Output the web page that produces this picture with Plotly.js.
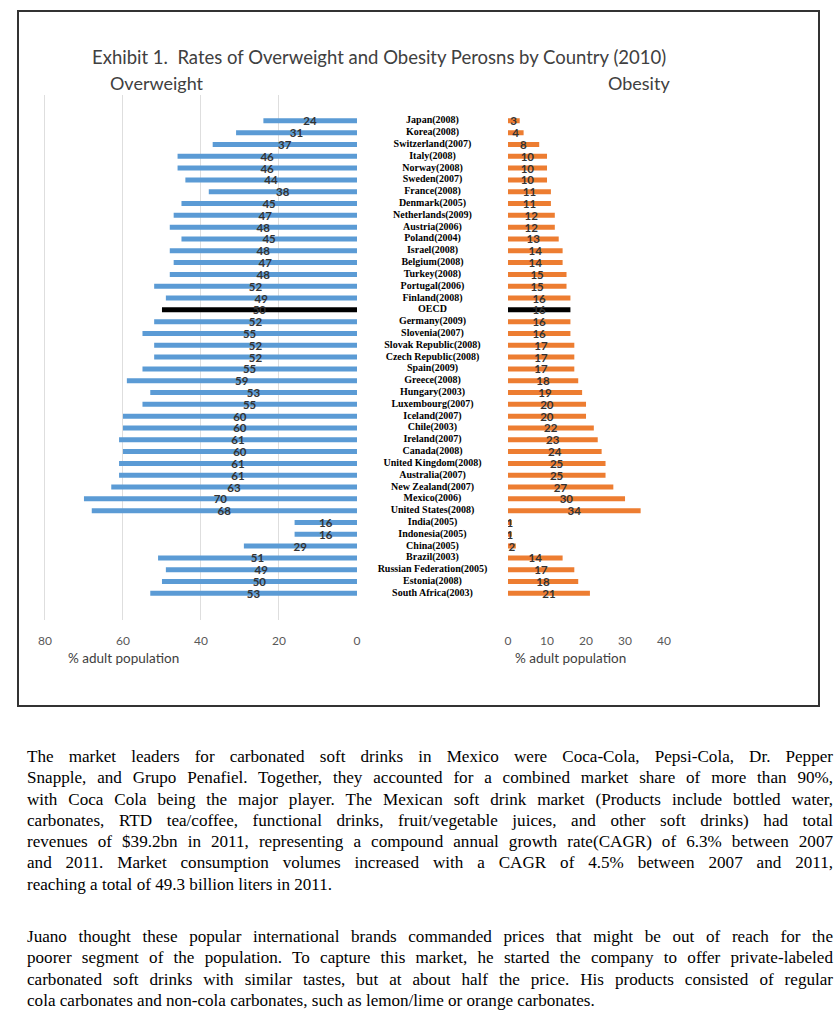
<!DOCTYPE html>
<html>
<head>
<meta charset="utf-8">
<script src="https://cdn.plot.ly/plotly-3.0.1.min.js"></script>
<style>
  html, body { margin: 0; padding: 0; background: #fff; width: 839px; height: 1024px; overflow: hidden; }
  #chart { position: absolute; left: 0; top: 0; width: 839px; height: 720px; }
  #frame { position: absolute; left: 17px; top: 10px; width: 803px; height: 697px; box-sizing: border-box; border: 2px solid #333; pointer-events: none; }
  .para { position: absolute; left: 27px; width: 806px; font-family: "Liberation Serif", "Times New Roman", serif; font-size: 17.1px; line-height: 21.3px; color: #000; }
  .para div { text-align: justify; text-align-last: justify; }
  .para div.last { text-align: left; text-align-last: left; }
</style>
</head>
<body>
<div id="chart"></div>
<div id="frame"></div>
<div class="para" style="top:746px;">
  <div>The market leaders for carbonated soft drinks in Mexico were Coca-Cola, Pepsi-Cola, Dr. Pepper</div>
  <div>Snapple, and Grupo Penafiel. Together, they accounted for a combined market share of more than 90%,</div>
  <div>with Coca Cola being the major player. The Mexican soft drink market (Products include bottled water,</div>
  <div>carbonates, RTD tea/coffee, functional drinks, fruit/vegetable juices, and other soft drinks) had total</div>
  <div>revenues of $39.2bn in 2011, representing a compound annual growth rate(CAGR) of 6.3% between 2007</div>
  <div>and 2011. Market consumption volumes increased with a CAGR of 4.5% between 2007 and 2011,</div>
  <div class="last">reaching a total of 49.3 billion liters in 2011.</div>
</div>
<div class="para" style="top:926px;">
  <div>Juano thought these popular international brands commanded prices that might be out of reach for the</div>
  <div>poorer segment of the population. To capture this market, he started the company to offer private-labeled</div>
  <div>carbonated soft drinks with similar tastes, but at about half the price. His products consisted of regular</div>
  <div class="last">cola carbonates and non-cola carbonates, such as lemon/lime or orange carbonates.</div>
</div>
<script>
const countries = [
  "Japan(2008)", "Korea(2008)", "Switzerland(2007)", "Italy(2008)", "Norway(2008)",
  "Sweden(2007)", "France(2008)", "Denmark(2005)", "Netherlands(2009)", "Austria(2006)",
  "Poland(2004)", "Israel(2008)", "Belgium(2008)", "Turkey(2008)", "Portugal(2006)",
  "Finland(2008)", "OECD", "Germany(2009)", "Slovenia(2007)", "Slovak Republic(2008)",
  "Czech Republic(2008)", "Spain(2009)", "Greece(2008)", "Hungary(2003)", "Luxembourg(2007)",
  "Iceland(2007)", "Chile(2003)", "Ireland(2007)", "Canada(2008)", "United Kingdom(2008)",
  "Australia(2007)", "New Zealand(2007)", "Mexico(2006)", "United States(2008)", "India(2005)",
  "Indonesia(2005)", "China(2005)", "Brazil(2003)", "Russian Federation(2005)", "Estonia(2008)",
  "South Africa(2003)"
];
const overweight = [
  24, 31, 37, 46, 46, 44, 38, 45, 47, 48,
  45, 48, 47, 48, 52, 49, 50, 52, 55, 52,
  52, 55, 59, 53, 55, 60, 60, 61, 60, 61,
  61, 63, 70, 68, 16, 16, 29, 51, 49, 50,
  53
];
const obesity = [
  3, 4, 8, 10, 10, 10, 11, 11, 12, 12,
  13, 14, 14, 15, 15, 16, 16, 16, 16, 17,
  17, 17, 18, 19, 20, 20, 22, 23, 24, 25,
  25, 27, 30, 34, 1, 1, 2, 14, 17, 18,
  21
];
const leftTicks = [80, 60, 40, 20, 0];
const rightTicks = [0, 10, 20, 30, 40];

const BLUE = "#5B9BD5", ORANGE = "#ED7D31", HILITE = "#000000";
const W = 839, H = 720;
const px = v => v / W;
const py = v => (H - v) / H;

const labelFont = { family: "Lato, 'Open Sans', sans-serif", size: 11.5, color: "#333333", weight: 700 };

const traces = [
  {
    type: "bar", orientation: "h", xaxis: "x", yaxis: "y",
    y: countries, x: overweight,
    marker: { color: countries.map(c => c === "OECD" ? HILITE : BLUE) },
    text: overweight.map(String),
    textposition: "inside", insidetextanchor: "middle", textangle: 0,
    constraintext: "none",
    textfont: labelFont, insidetextfont: labelFont,
    hoverinfo: "skip"
  },
  {
    type: "bar", orientation: "h", xaxis: "x2", yaxis: "y",
    y: countries, x: obesity,
    marker: { color: countries.map(c => c === "OECD" ? HILITE : ORANGE) },
    text: obesity.map(String),
    textposition: "inside", insidetextanchor: "middle", textangle: 0,
    constraintext: "none",
    textfont: labelFont, insidetextfont: labelFont,
    hoverinfo: "skip"
  },
  {
    type: "scatter", mode: "text", xaxis: "x3", yaxis: "y",
    y: countries, x: countries.map(() => 0),
    text: countries,
    textposition: "middle center",
    textfont: { family: "'Liberation Serif', 'Times New Roman', serif", size: 10, color: "#000", weight: 700 },
    hoverinfo: "skip", cliponaxis: false
  }
];

const tickFont = { family: "Lato, 'Open Sans', sans-serif", size: 12, color: "#595959" };

const layout = {
  width: W, height: H,
  margin: { l: 0, r: 0, t: 0, b: 0, pad: 0 },
  paper_bgcolor: "#fff", plot_bgcolor: "rgba(0,0,0,0)",
  showlegend: false,
  bargap: 0.58,
  xaxis: {
    domain: [px(43), px(357)], range: [80.5, 0], anchor: "y",
    tickmode: "array", tickvals: leftTicks, ticktext: leftTicks.map(String),
    showgrid: true, gridcolor: "#dedede", gridwidth: 1, zeroline: false,
    showline: false, ticks: "", tickfont: tickFont, ticklabelstandoff: 12,
    fixedrange: true
  },
  xaxis2: {
    domain: [px(508), px(666)], range: [0, 40.5], anchor: "y",
    tickmode: "array", tickvals: rightTicks, ticktext: rightTicks.map(String),
    showgrid: false, zeroline: false,
    showline: false, ticks: "", tickfont: tickFont, ticklabelstandoff: 12,
    fixedrange: true
  },
  xaxis4: {
    overlaying: "x2", matches: "x2", anchor: "y", range: [0, 40.5],
    tickmode: "linear", tick0: 0, dtick: 20,
    showgrid: true, gridcolor: "#dedede", gridwidth: 1, zeroline: false,
    showticklabels: false, ticks: "", showline: false, fixedrange: true
  },
  xaxis3: {
    domain: [px(357), px(508)], range: [-1, 1], anchor: "y",
    visible: false, fixedrange: true
  },
  yaxis: {
    domain: [py(619.6), py(94.6)],
    type: "category", categoryorder: "array", categoryarray: countries,
    autorange: "reversed",
    showticklabels: false, showgrid: false, zeroline: false, ticks: "", showline: false,
    fixedrange: true
  },
  annotations: [
    { text: "Exhibit 1.  Rates of Overweight and Obesity Perosns by Country (2010)",
      xref: "paper", yref: "paper", x: px(379), y: py(57), xanchor: "center", yanchor: "middle",
      showarrow: false, font: { family: "Lato, sans-serif", size: 18.5, color: "#404040" } },
    { text: "Overweight", xref: "paper", yref: "paper", x: px(156.5), y: py(83),
      xanchor: "center", yanchor: "middle", showarrow: false,
      font: { family: "Lato, sans-serif", size: 18, color: "#404040" } },
    { text: "Obesity", xref: "paper", yref: "paper", x: px(639), y: py(83),
      xanchor: "center", yanchor: "middle", showarrow: false,
      font: { family: "Lato, sans-serif", size: 18, color: "#404040" } },
    { text: "% adult population", xref: "paper", yref: "paper", x: px(123.5), y: py(658),
      xanchor: "center", yanchor: "middle", showarrow: false,
      font: { family: "Lato, sans-serif", size: 13.5, color: "#404040" } },
    { text: "% adult population", xref: "paper", yref: "paper", x: px(570), y: py(658),
      xanchor: "center", yanchor: "middle", showarrow: false,
      font: { family: "Lato, sans-serif", size: 13.5, color: "#404040" } }
  ]
};

Plotly.newPlot("chart", traces, layout, { displayModeBar: false, staticPlot: true });
</script>
</body>
</html>
